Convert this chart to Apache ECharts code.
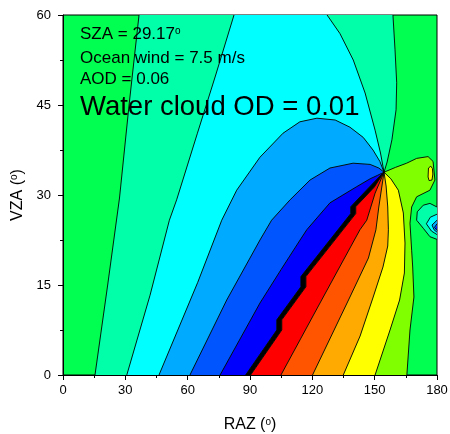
<!DOCTYPE html>
<html>
<head>
<meta charset="utf-8">
<script src="https://cdn.jsdelivr.net/npm/echarts@6/dist/echarts.min.js"></script>
<style>
  html, body { margin: 0; padding: 0; background: #fff; }
  #chart { width: 450px; height: 434px; }
</style>
</head>
<body>
<div id="chart"></div>
<script>
// Tick values (degrees)
const razTicks = [0, 30, 60, 90, 120, 150, 180];
const vzaTicks = [0, 15, 30, 45, 60];

// Contour boundaries, vertices as [RAZ, VZA], traced from the plot edge
// toward the common focus near RAZ 154.5, VZA 33.8.
const bGreenAquaL = [[15.4,0],[21.5,15],[27.2,29.5],[31.8,45],[36.6,60]];
const bAquaCyanL  = [[30.7,0],[41.9,13.3],[51.2,25.8],[54.7,29.2],[64.7,40.3],[73.5,50],[82.3,60]];
const bCyanLblue  = [[46.2,0],[64.8,15.4],[76.4,25.8],[83.6,30.8],[94.8,36.3],[105.9,40.3],[114,42.2],[122.2,42.8],[131,42.5],[138.1,41.3],[144.5,39.6],[149.2,37.5],[152.5,35.6],[154.5,33.8]];
const bLblueBlue  = [[61.1,0],[78.8,12.5],[94.8,22.5],[100.4,25.8],[109.3,29.2],[118.9,32.5],[128.5,34.5],[139.6,35.3],[147.8,35.1],[152,34.5],[154.5,33.8]];
const bBlueDeep   = [[75.6,0],[94.8,12],[105,17.6],[114.1,22.5],[117.3,24.2],[128.5,28.7],[141.4,31.4],[147.8,32.7],[151.5,33.3],[154.5,33.8]];
const bDeepBand   = [[87.9,0],[102.9,7.5],[102.9,9.2],[114.5,14.7],[114.5,16.4],[138.5,26.9],[138.5,28.05],[147.4,31.3],[153.8,33.6]];
const bBandRed    = [[90.3,0],[105.3,7.5],[105.3,9.2],[116.9,14.7],[116.9,16.4],[140.9,26.9],[140.9,28.05],[149.8,31.3],[154.5,33.8]];
const bRedOrRed   = [[104.9,0],[123.7,12],[142.9,24.2],[146.2,25.8],[150.2,30.3],[154.5,33.8]];
const bOrRedOrange= [[120.1,0],[138.1,13],[147,19.5],[150.6,24.2],[152,28],[153.5,31.5],[154.5,33.8]];
const bOrangeYel  = [[134.9,0],[143,6.5],[149.3,13],[154,18],[156.3,21.5],[156.6,24.2],[156.3,28],[155.5,31.5],[154.5,33.8]];
const bYelLime    = [[150.2,0],[157.4,7.5],[162,12.5],[164.3,17],[164.6,22],[163.8,27],[161.4,30.8],[157.8,32.7],[154.5,33.8]];
const bLimeGreen  = [[165.5,0],[167,7.5],[168.9,13],[168.3,18],[167.8,20.8],[167,25.3],[167.8,28],[170.2,29.7],[176.6,30.8],[179,32.5],[178.1,35.6],[175.7,36.4],[170.2,36.1],[165.4,35.3],[160,34.6],[154.5,33.8]];
const bCyanAquaU  = [[127.1,60],[133.3,56.9],[139.7,52.5],[145.4,47],[150.2,40.8],[152.8,37],[154.5,33.8]];
const bAquaGreenU = [[158.8,60],[159.8,54.2],[160.6,48.7],[160.3,44.2],[158.3,39.2],[156,35.5],[154.5,33.8]];

// Closed islands near the right edge
const islandYellow = [[175.7,33.0],[176.2,32.4],[177.6,32.5],[178.0,33.5],[177.8,34.4],[177,34.8],[175.9,34.5]];
const islandAqua   = [[180,28],[176.6,28.6],[173.4,28.3],[170.5,27.2],[170.2,25.8],[173.4,24.45],[176.6,23.05],[180,22.6]];
const islandCyan   = [[180,26.8],[176.8,26.3],[174.9,25.2],[177.3,24],[180,23.4]];
const islandLblue  = [[180,25.8],[177.6,25],[178.6,24.2],[180,23.8]];
const islandBlue   = [[180,25.2],[178.8,24.6],[180,24.1]];
const islandDeep   = [[180,24.8],[179.4,24.5],[180,24.3]];

// Level colours
const C = {
  green: '#00FF50', aqua: '#00FFA8', cyan: '#00FFFF', lblue: '#00AAFF',
  blue: '#0055FF', deep: '#0000FF', band: '#000000', red: '#FF0000',
  orred: '#FF5500', orange: '#FFAA00', yellow: '#FFFF00', lime: '#80FF00'
};

const rev = a => a.slice().reverse();

// Filled bands, painted in order over the green background
const regions = [
  { pts: bGreenAquaL.concat(rev(bAquaCyanL)), color: C.aqua },
  { pts: bAquaCyanL.concat(bCyanAquaU, rev(bCyanLblue)), color: C.cyan },
  { pts: bCyanAquaU.concat(rev(bAquaGreenU)), color: C.aqua },
  { pts: bCyanLblue.concat(rev(bLblueBlue)), color: C.lblue },
  { pts: bLblueBlue.concat(rev(bBlueDeep)), color: C.blue },
  { pts: bBlueDeep.concat(rev(bDeepBand)), color: C.deep },
  { pts: bDeepBand.concat(rev(bBandRed)), color: C.band },
  { pts: bBandRed.concat(rev(bRedOrRed)), color: C.red },
  { pts: bRedOrRed.concat(rev(bOrRedOrange)), color: C.orred },
  { pts: bOrRedOrange.concat(rev(bOrangeYel)), color: C.orange },
  { pts: bOrangeYel.concat(rev(bYelLime)), color: C.yellow },
  { pts: bYelLime.concat(rev(bLimeGreen)), color: C.lime },
  { pts: islandYellow, color: C.yellow },
  { pts: islandAqua, color: C.aqua },
  { pts: islandCyan, color: C.cyan },
  { pts: islandLblue, color: C.lblue },
  { pts: islandBlue, color: C.blue },
  { pts: islandDeep, color: C.deep }
];

const contourLines = [
  bGreenAquaL, bAquaCyanL, bCyanLblue, bLblueBlue, bBlueDeep, bDeepBand, bBandRed,
  bRedOrRed, bOrRedOrange, bOrangeYel, bYelLime, bLimeGreen, bCyanAquaU, bAquaGreenU,
  islandYellow.concat([islandYellow[0]]), islandAqua, islandCyan, islandLblue, islandBlue
];

const FONT = '"Liberation Sans", Arial, Helvetica, sans-serif';
const supRich = { s: { fontSize: 10, fontFamily: FONT, color: '#000', verticalAlign: 'top' } };

const chart = echarts.init(document.getElementById('chart'), null, { renderer: 'canvas' });

const series = [{
  type: 'custom',
  coordinateSystem: 'cartesian2d',
  silent: true,
  z: 1,
  data: regions.map((r, i) => [r.pts[0][0], r.pts[0][1], i]),
  renderItem: function (params, api) {
    const r = regions[params.dataIndex];
    return {
      type: 'polygon',
      shape: { points: r.pts.map(p => api.coord(p)) },
      style: { fill: r.color, stroke: null }
    };
  }
}];

contourLines.forEach(function (line) {
  series.push({
    type: 'line',
    data: line,
    symbol: 'none',
    silent: true,
    z: 3,
    lineStyle: { color: '#000', width: 0.9 }
  });
});

chart.setOption({
  animation: false,
  grid: {
    left: 63, right: 13, top: 15, bottom: 59,
    outerBoundsMode: 'none', containLabel: false,
    show: true, backgroundColor: C.green, borderColor: '#000', borderWidth: 1
  },
  xAxis: {
    type: 'value', min: 0, max: 180, interval: 30,
    name: 'RAZ ({s|o})', nameLocation: 'middle', nameGap: 42,
    nameTextStyle: { fontSize: 16, fontFamily: FONT, color: '#000', rich: supRich },
    axisLine: { show: true, onZero: false, lineStyle: { color: '#000', width: 1 } },
    axisTick: { show: true, length: 5, lineStyle: { color: '#000', width: 1 } },
    minorTick: { show: true, splitNumber: 2, length: 3, lineStyle: { color: '#000', width: 1 } },
    splitLine: { show: false },
    axisLabel: {
      fontSize: 13, fontFamily: FONT, color: '#000', margin: 9,
      formatter: v => (razTicks.indexOf(v) >= 0 ? String(v) : '')
    }
  },
  yAxis: {
    type: 'value', min: 0, max: 60, interval: 15,
    name: 'VZA ({s|o})', nameLocation: 'middle', nameGap: 30,
    nameTextStyle: { fontSize: 16, fontFamily: FONT, color: '#000', rich: supRich },
    axisLine: { show: true, onZero: false, lineStyle: { color: '#000', width: 1 } },
    axisTick: { show: true, length: 5, lineStyle: { color: '#000', width: 1 } },
    minorTick: { show: true, splitNumber: 2, length: 3, lineStyle: { color: '#000', width: 1 } },
    splitLine: { show: false },
    axisLabel: {
      fontSize: 13, fontFamily: FONT, color: '#000', margin: 12,
      formatter: v => (vzaTicks.indexOf(v) >= 0 ? String(v) : '')
    }
  },
  graphic: [
    { type: 'text', x: 80, y: 34.5, z: 10, silent: true,
      style: { text: 'SZA = 29.17{s|o}', fontSize: 17, fontFamily: FONT, fill: '#000', verticalAlign: 'middle',
               rich: { s: { fontSize: 10, fontFamily: FONT, fill: '#000', verticalAlign: 'top' } } } },
    { type: 'text', x: 80, y: 58.3, z: 10, silent: true,
      style: { text: 'Ocean wind = 7.5 m/s', fontSize: 17, fontFamily: FONT, fill: '#000', verticalAlign: 'middle' } },
    { type: 'text', x: 80, y: 79.7, z: 10, silent: true,
      style: { text: 'AOD = 0.06', fontSize: 17, fontFamily: FONT, fill: '#000', verticalAlign: 'middle' } },
    { type: 'text', x: 80, y: 107.8, z: 10, silent: true,
      style: { text: 'Water cloud OD = 0.01', fontSize: 27.5, fontFamily: FONT, fill: '#000', verticalAlign: 'middle' } }
  ],
  series: series
});
</script>
</body>
</html>
